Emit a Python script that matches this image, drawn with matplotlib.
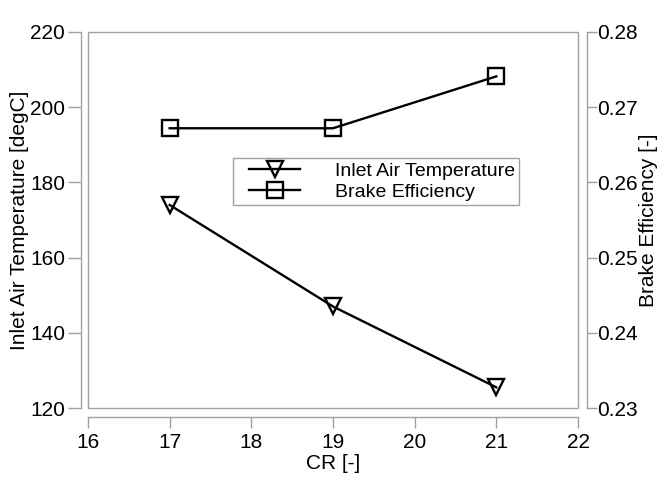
import numpy as np
import matplotlib
matplotlib.use('Agg')
import matplotlib.pyplot as plt
from matplotlib.patches import Rectangle
from matplotlib.lines import Line2D
from matplotlib.legend_handler import HandlerLine2D

plt.rcParams['font.family'] = ['Liberation Sans', 'DejaVu Sans']
plt.rcParams['font.size'] = 15

cr = [17, 19, 21]
inlet_temp = [174, 147, 125.5]
brake_eff = [0.2672, 0.2672, 0.2741]

gray = '#a0a0a0'

fig = plt.figure(figsize=(6.63, 4.79), dpi=100)
ax1 = fig.add_axes([0.1327, 0.1482, 0.7391, 0.785])
ax2 = ax1.twinx()

l1, = ax1.plot(cr, inlet_temp, color='black', lw=1.7, marker='v', ms=11,
               mfc='none', mec='black', mew=1.7, label='Inlet Air Temperature')
l2, = ax2.plot(cr, brake_eff, color='black', lw=1.7, marker='s', ms=11,
               mfc='none', mec='black', mew=1.7, label='Brake Efficiency')

ax1.set_xlim(16, 22)
ax1.set_ylim(120, 220)
ax2.set_ylim(0.23, 0.28)
ax1.set_xticks(np.arange(16, 23, 1))
ax1.set_yticks(np.arange(120, 221, 20))
ax2.set_yticks(np.arange(0.23, 0.2801, 0.01))
ax2.set_yticklabels(['0.23', '0.24', '0.25', '0.26', '0.27', '0.28'])

for ax in (ax1, ax2):
    for s in ax.spines.values():
        s.set_visible(False)

ax1.spines['left'].set_visible(True)
ax1.spines['left'].set_position(('outward', 5))
ax1.spines['bottom'].set_visible(True)
ax1.spines['bottom'].set_position(('outward', 6.5))
ax2.spines['right'].set_visible(True)
ax2.spines['right'].set_position(('outward', 6.5))
for s in (ax1.spines['left'], ax1.spines['bottom'], ax2.spines['right']):
    s.set_color(gray)
    s.set_linewidth(1.0)

ax1.tick_params(axis='y', length=9.5, color=gray, width=1.0, pad=2)
ax1.tick_params(axis='x', length=8, color=gray, width=1.0, pad=3.5)
ax2.tick_params(axis='y', length=7, color=gray, width=1.0, pad=0.5)

# frame around the plotting area
ax1.add_patch(Rectangle((0, 0), 1, 1, transform=ax1.transAxes, fill=False,
                        edgecolor=gray, lw=1.0, clip_on=False))

ax1.set_xlabel('CR [-]', labelpad=1.5)
ax1.set_ylabel('Inlet Air Temperature [degC]', labelpad=1)
ax2.set_ylabel('Brake Efficiency [-]', labelpad=1)

leg = ax2.legend([l1, l2], ['Inlet Air Temperature', 'Brake Efficiency'],
                 loc='upper left', bbox_to_anchor=(0.296, 0.665),
                 borderaxespad=0, handlelength=3.25, handletextpad=1.75,
                 labelspacing=0.18, fancybox=False, framealpha=1,
                 edgecolor=gray, fontsize=14, borderpad=0.22,
                 handler_map={Line2D: HandlerLine2D(xpad=0.62)})
leg.get_frame().set_linewidth(1.0)

fig.savefig('out.png', dpi=100)
